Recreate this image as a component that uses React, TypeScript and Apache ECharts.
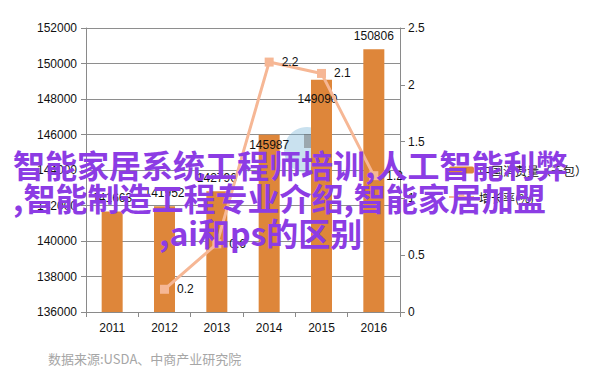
import React, { useEffect, useRef } from "react";
import * as echarts from "echarts";

const years = ["2011", "2012", "2013", "2014", "2015", "2016"];
const consumption = [141663, 141952, 142796, 145987, 149090, 150806];
const growth: (number | string)[] = ["-", 0.2, 0.6, 2.2, 2.1, 1.2];
const seriesNames = ["中国消费量（千包）", "增长率(%)"];
const overlayLines = [
  "智能家居系统工程师培训,人工智能利弊",
  ",智能制造工程专业介绍,智能家居加盟",
  ",ai和ps的区别",
];
const sourceText = "数据来源:USDA、中商产业研究院";

const BAR = "#DE863A";
const LINE = "#F6B795";
const PURPLE = "#8C3CE4";
const FONT = "'Liberation Sans', Arial, 'Noto Sans CJK SC', sans-serif";

export default function App() {
  const ref = useRef<HTMLDivElement>(null);
  useEffect(() => {
    if (!ref.current) return;
    const chart = echarts.init(ref.current, null, { renderer: "svg" });
    const barData = consumption.map((v, i) => {
      if (i === 3) {
        return { value: v, label: { position: "insideTop", distance: 4 } };
      }
      if (i === 4) {
        return { value: v, label: { position: "insideTop", distance: 13, offset: [-4, 0] } };
      }
      return v;
    });
    chart.setOption({
      animation: false,
      backgroundColor: "#ffffff",
      textStyle: { fontFamily: FONT },
      grid: { left: 86, right: 202, top: 28, bottom: 72, containLabel: false },
      legend: {
        orient: "vertical",
        left: 443,
        top: 159,
        itemWidth: 25,
        itemHeight: 7,
        itemGap: 15,
        textStyle: { fontSize: 12, color: "#111", fontFamily: "'Noto Sans CJK SC', sans-serif" },
        data: seriesNames,
      },
      xAxis: {
        type: "category",
        data: years,
        boundaryGap: true,
        axisLine: { lineStyle: { color: "#8a8a8a" } },
        axisTick: { show: true, length: 5, lineStyle: { color: "#8a8a8a" } },
        axisLabel: { fontSize: 12, color: "#111", margin: 10 },
      },
      yAxis: [
        {
          type: "value",
          min: 136000,
          max: 152000,
          interval: 2000,
          axisLine: { show: true, lineStyle: { color: "#8a8a8a" } },
          axisTick: { show: true, length: 5, lineStyle: { color: "#8a8a8a" } },
          axisLabel: { fontSize: 12, color: "#111", margin: 9, formatter: (v: number) => String(v) },
          splitLine: { lineStyle: { color: "#8e8e8e" } },
        },
        {
          type: "value",
          min: 0,
          max: 2.5,
          interval: 0.5,
          position: "right",
          axisLine: { show: true, lineStyle: { color: "#8a8a8a" } },
          axisTick: { show: true, length: 5, lineStyle: { color: "#8a8a8a" } },
          axisLabel: { fontSize: 12, color: "#111", margin: 8, formatter: (v: number) => String(v) },
          splitLine: { show: false },
        },
      ],
      series: [
        {
          name: seriesNames[0],
          type: "bar",
          data: barData,
          barWidth: 21,
          itemStyle: { color: BAR },
          label: { show: true, position: "top", distance: 7, fontSize: 12, color: "#111" },
          z: 2,
        },
        {
          name: seriesNames[1],
          type: "line",
          yAxisIndex: 1,
          data: growth,
          symbol: "rect",
          symbolSize: 9,
          itemStyle: { color: LINE },
          lineStyle: { color: LINE, width: 3 },
          label: { show: true, position: "right", distance: 8, fontSize: 12, color: "#111" },
          z: 3,
        },
      ],
      graphic: [
        {
          type: "circle",
          shape: { cx: 307, cy: 150, r: 23 },
          style: { fill: "rgba(120,180,215,0.4)" },
          z: 1,
        },
        {
          type: "rect",
          shape: { x: 304, y: 134, width: 14, height: 14 },
          style: { fill: "rgba(110,110,110,0.5)" },
          z: 1,
        },
        ...overlayLines.map((t, i) => ({
          type: "text",
          left: i === 2 ? 159 : 13,
          top: [148, 181, 216][i],
          z: 100,
          style: {
            text: t,
            fill: PURPLE,
            font: `bold 32px 'Noto Sans CJK SC', sans-serif`,
          },
        })),
        {
          type: "text",
          left: 48,
          top: 352,
          z: 100,
          style: {
            text: sourceText,
            fill: "#a6a6a6",
            font: `13px 'Noto Sans CJK SC', serif`,
          },
        },
      ],
    });
    return () => chart.dispose();
  }, []);
  return (
    <div
      ref={ref}
      style={{ position: "absolute", left: 0, top: 0, width: 602, height: 384, background: "#fff" }}
    />
  );
}
